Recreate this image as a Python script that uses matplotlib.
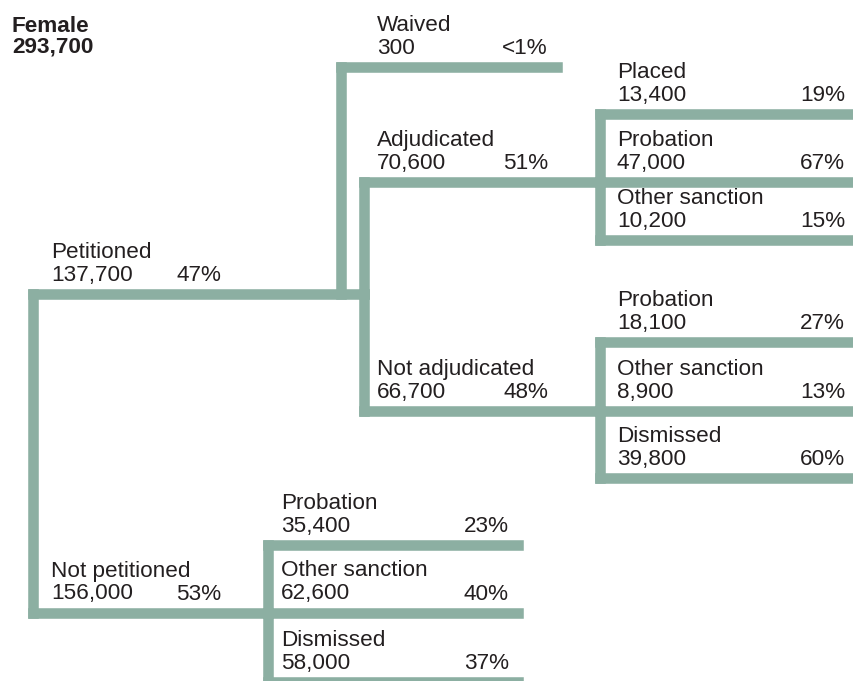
import matplotlib
matplotlib.use("Agg")
import matplotlib.pyplot as plt

# case flow data
labels = ["Female", "Petitioned", "Not petitioned", "Waived", "Adjudicated",
          "Not adjudicated", "Placed", "Probation", "Other sanction",
          "Probation", "Other sanction", "Dismissed",
          "Probation", "Other sanction", "Dismissed"]
counts = ["293,700", "137,700", "156,000", "300", "70,600", "66,700",
          "13,400", "47,000", "10,200", "18,100", "8,900", "39,800",
          "35,400", "62,600", "58,000"]
pcts = ["", "47%", "53%", "<1%", "51%", "48%", "19%", "67%", "15%",
        "27%", "13%", "60%", "23%", "40%", "37%"]
parents = [None, 0, 0, 1, 1, 1, 4, 4, 4, 5, 5, 5, 2, 2, 2]

# layout (pixel units, y down)
line_y = [294, 294, 612.5, 67, 182, 411, 114, 182, 240, 342, 411, 478, 545, 612.5, 682]
stem_x = [None, 33.5, 33.5, 341, 364, 364, 600, 600, 600, 600, 600, 600, 268.5, 268.5, 268.5]
end_x = [None, 364, 268.5, 557, 600, 600, 860, 860, 860, 860, 860, 860, 518, 518, 518]
text_x = [12, 51, 51, 377, 377, 377, 617, 617, 617, 617, 617, 617, 281, 281, 281]
pct_x = [None, 221, 221, 548, 548, 548, 845, 845, 845, 845, 845, 845, 509, 509, 509]

color = "#8cafa2"
tcolor = "#231f20"
lw = 7.6
fs = 16.2
plt.rcParams['font.family'] = ['Liberation Sans', 'DejaVu Sans']

fig = plt.figure(figsize=(8.54, 6.81), dpi=100)
ax = fig.add_axes([0, 0, 1, 1])
ax.set_xlim(0, 854)
ax.set_ylim(681, 0)
ax.axis("off")

for i in range(1, len(labels)):
    p = parents[i]
    x0 = stem_x[i]
    if line_y[p] != line_y[i]:
        ax.plot([x0, x0], [line_y[p], line_y[i]], color=color, lw=lw,
                solid_capstyle="projecting")
    ax.plot([x0, end_x[i]], [line_y[i], line_y[i]], color=color, lw=lw,
            solid_capstyle="projecting")
    yb = line_y[i] - 13
    ax.text(text_x[i], yb - 23, labels[i], fontsize=fs, color=tcolor, va="baseline")
    ax.text(text_x[i], yb, counts[i], fontsize=fs, color=tcolor, va="baseline")
    ax.text(pct_x[i], yb, pcts[i], fontsize=fs, color=tcolor, va="baseline", ha="right")

ax.text(text_x[0], 32, labels[0], fontsize=fs, color=tcolor, va="baseline", fontweight="bold")
ax.text(text_x[0], 53, counts[0], fontsize=fs, color=tcolor, va="baseline", fontweight="bold")

fig.savefig("out.png", dpi=100)
